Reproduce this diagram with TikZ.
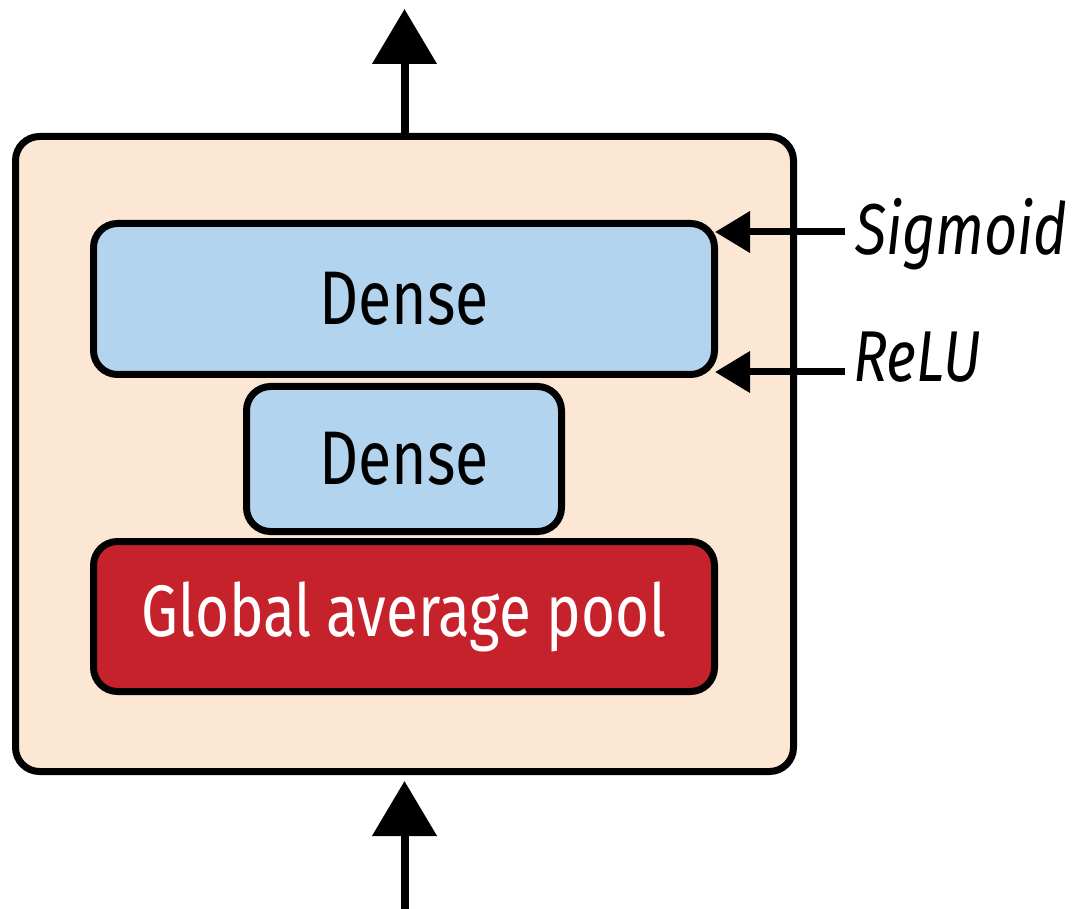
\documentclass[tikz,border=0pt]{standalone}
\usepackage{fontspec}
\setmainfont[FakeStretch=0.8]{Fira Sans}
\usetikzlibrary{arrows.meta}
\definecolor{peach}{HTML}{FCE7D5}
\definecolor{lblue}{HTML}{B3D4EF}
\definecolor{dred}{HTML}{C6222B}
\tikzset{
  box/.style={draw=black, line width=7pt, rounded corners=24pt, rectangle, inner sep=0pt},
  bigarrow/.style={line width=8pt, -{Triangle[length=55pt,width=63pt]}},
  sidearrow/.style={line width=7pt, -{Triangle[length=35pt,width=40pt]}},
  lbl/.style={font=\fontsize{76}{80}\selectfont},
  sidelbl/.style={font=\fontsize{72}{80}\selectfont\itshape, anchor=base west, inner sep=0pt},
}
\begin{document}
\begin{tikzpicture}[x=1pt,y=-1pt]
\useasboundingbox (0,0) rectangle (1072,909);
\node[box, fill=peach, minimum width=778pt, minimum height=635pt] (outer) at (404.5,454) {};
\node[box, fill=lblue, minimum width=621pt, minimum height=151pt, lbl] (dense1) at (404,299) {Dense};
\node[box, fill=lblue, minimum width=315pt, minimum height=145pt, lbl] (dense2) at (404,459) {Dense};
\node[box, fill=dred, minimum width=621pt, minimum height=150pt, font=\fontsize{73}{80}\selectfont, text=white] (gap) at (404,616.5) {Global average pool};
\coordinate (topend) at (404.5,9);
\coordinate (botstart) at (404.5,909);
\draw[bigarrow] (outer.north) -- (topend);
\draw[bigarrow, shorten >=6pt] (botstart) -- (outer.south);
\node[sidelbl] (sig) at (855,255) {Sigmoid};
\node[sidelbl] (relu) at (853,382) {ReLU};
\coordinate (sigstart) at (845,232);
\coordinate (sigend) at (715,232);
\coordinate (relustart) at (845,372);
\coordinate (reluend) at (715,372);
\draw[sidearrow] (sigstart) -- (sigend);
\draw[sidearrow] (relustart) -- (reluend);
\end{tikzpicture}
\end{document}
